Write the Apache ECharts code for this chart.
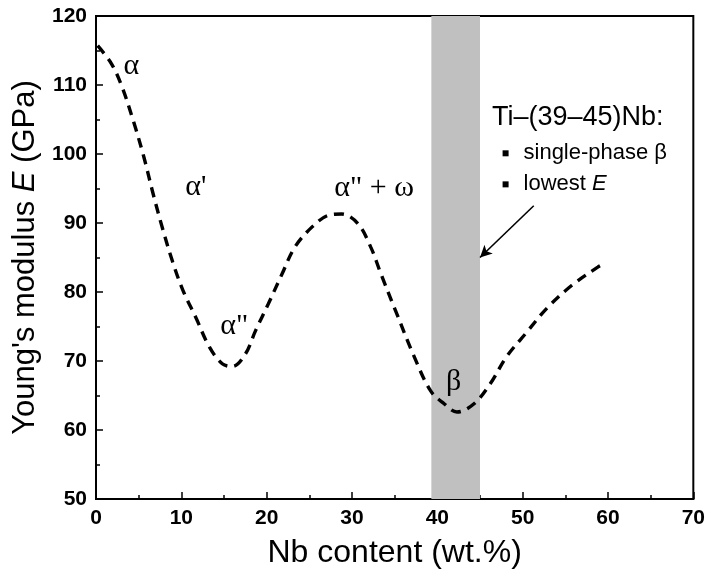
<!DOCTYPE html>
<html>
<head>
<meta charset="utf-8">
<script src="https://cdn.jsdelivr.net/npm/echarts@6/dist/echarts.min.js"></script>
<style>
  html, body { margin: 0; padding: 0; background: #fff; }
  #chart { width: 708px; height: 581px; }
</style>
</head>
<body>
<div id="chart"></div>
<script>
var dom = document.getElementById("chart");
var myChart = echarts.init(dom);

// Young's modulus vs Nb content (dashed guide curve)
var nbContent = [0.2, 1.8, 3.0, 4.4, 5.6, 6.7, 7.8, 9.0, 10.2, 11.7, 13.3, 14.8, 16.0, 17.5, 18.7,
    20.2, 21.8, 23.3, 25.3, 27.2, 28.8, 30.7, 32.2, 33.4, 35.1, 37.3, 39.2, 40.8, 42.3,
    44.3, 46.2, 48.1, 50.5, 52.8, 55.7, 58.8, 59.4];
var modulus = [115.7, 113.1, 109.9, 104.7, 99.6, 94.2, 89.2, 84.3, 80.2, 76.3, 72.0, 69.6, 69.2, 71.0, 74.4,
    78.3, 82.6, 86.5, 89.4, 91.1, 91.3, 89.9, 86.5, 82.6, 77.3, 70.6, 65.7, 63.8, 62.6,
    63.8, 66.7, 70.6, 74.2, 77.6, 80.9, 83.6, 84.0];

// shaded Ti-(39-45)Nb band
var bandRange = [39.3, 45];

// phase labels
var phaseNames = ['α', "α'", 'α"', 'α" + ω', 'β'];
var phaseX = [4.15, 11.7, 16.2, 32.6, 41.9];
var phaseY = [112.8, 95.2, 75.1, 95.0, 66.9];

// annotation text
var noteTitle = 'Ti–(39–45)Nb:';
var noteTitlePos = [46.4, 105.3];
var noteItems = ['single-phase β', 'lowest E'];
var noteBulletX = 48.0;
var noteTextX = 50.1;
var noteItemY = [100.1, 95.6];
var arrowFrom = [51.3, 92.5];
var arrowTo = [45.0, 85.0];

var xTicks = [0, 70, 10];
var yTicks = [50, 120, 10];

var curveData = [];
for (var i = 0; i < nbContent.length; i++) {
    curveData.push([nbContent[i], modulus[i]]);
}
var phaseData = [];
for (var i = 0; i < phaseNames.length; i++) {
    phaseData.push({ value: [phaseX[i], phaseY[i]], name: phaseNames[i] });
}
var bulletData = [];
var itemData = [];
for (var i = 0; i < noteItems.length; i++) {
    bulletData.push([noteBulletX, noteItemY[i]]);
    itemData.push({ value: [noteTextX, noteItemY[i]], name: noteItems[i] });
}

var sansFont = "'Liberation Sans', Arial, sans-serif";
var serifFont = "'Liberation Serif', 'Times New Roman', serif";

var axisCommon = {
    axisLine: { lineStyle: { color: '#000', width: 2 } },
    axisTick: { inside: true, length: 7, lineStyle: { color: '#000', width: 1.5 } },
    minorTick: { show: true, splitNumber: 2, length: 4, lineStyle: { color: '#000', width: 1.5 } },
    splitLine: { show: false },
    axisLabel: { fontFamily: sansFont, fontWeight: 'bold', fontSize: 21, color: '#000', margin: 9 }
};

var option = {
    backgroundColor: '#fff',
    animation: false,
    grid: {
        left: 96, right: 10, top: 16, bottom: 82,
        show: true, borderColor: '#000', borderWidth: 2, backgroundColor: 'transparent'
    },
    xAxis: Object.assign({
        type: 'value',
        min: xTicks[0], max: xTicks[1], interval: xTicks[2],
        name: 'Nb content (wt.%)',
        nameLocation: 'middle',
        nameGap: 38,
        nameTextStyle: { fontFamily: sansFont, fontSize: 32, color: '#000' }
    }, axisCommon),
    yAxis: Object.assign({
        type: 'value',
        min: yTicks[0], max: yTicks[1], interval: yTicks[2],
        name: "{n|Young's modulus }{i|E}{n| (GPa)}",
        nameLocation: 'middle',
        nameRotate: 90,
        nameGap: 52,
        nameTextStyle: {
            rich: {
                n: { fontFamily: sansFont, fontSize: 31, color: '#000' },
                i: { fontFamily: sansFont, fontSize: 31, color: '#000', fontStyle: 'italic' }
            }
        }
    }, axisCommon),
    series: [
        {
            name: 'band',
            type: 'line',
            data: [],
            z: 1,
            silent: true,
            markArea: {
                silent: true,
                itemStyle: { color: '#c0c0c0' },
                data: [[{ xAxis: bandRange[0] }, { xAxis: bandRange[1] }]]
            }
        },
        {
            name: 'E',
            type: 'line',
            data: curveData,
            smooth: 0.35,
            showSymbol: false,
            z: 3,
            lineStyle: { color: '#000', width: 3.4, type: [10, 7] }
        },
        {
            name: 'phases',
            type: 'scatter',
            data: phaseData,
            symbolSize: 0,
            z: 4,
            itemStyle: { opacity: 1 },
            label: {
                show: true, position: 'inside',
                formatter: function (p) { return p.name; },
                fontFamily: serifFont, fontSize: 30, color: '#000', opacity: 1
            }
        },
        {
            name: 'noteTitle',
            type: 'scatter',
            data: [{ value: noteTitlePos, name: noteTitle }],
            symbolSize: 0,
            z: 4,
            itemStyle: { opacity: 1 },
            label: {
                show: true, position: 'right', distance: 0,
                formatter: function (p) { return p.name; },
                fontFamily: sansFont, fontSize: 27, color: '#000', opacity: 1
            }
        },
        {
            name: 'bullets',
            type: 'scatter',
            data: bulletData,
            symbol: 'rect',
            symbolSize: 6,
            z: 4,
            itemStyle: { color: '#000', opacity: 1 }
        },
        {
            name: 'noteItems',
            type: 'scatter',
            data: itemData,
            symbolSize: 0,
            z: 4,
            itemStyle: { opacity: 1 },
            label: {
                show: true, position: 'right', distance: 0, opacity: 1,
                formatter: function (p) {
                    return p.name === 'lowest E' ? '{n|lowest }{i|E}' : '{n|' + p.name + '}';
                },
                rich: {
                    n: { fontFamily: sansFont, fontSize: 22, color: '#000' },
                    i: { fontFamily: sansFont, fontSize: 22, color: '#000', fontStyle: 'italic' }
                }
            }
        },
        {
            name: 'arrow',
            type: 'line',
            data: [],
            z: 4,
            markLine: {
                silent: true,
                symbol: ['none', 'arrow'],
                symbolSize: [9, 12],
                label: { show: false },
                lineStyle: { color: '#000', width: 1.6, type: 'solid' },
                data: [[{ coord: arrowFrom }, { coord: arrowTo }]]
            }
        }
    ]
};

if (option && typeof option === "object") {
    myChart.setOption(option, true);
}
</script>
</body>
</html>
